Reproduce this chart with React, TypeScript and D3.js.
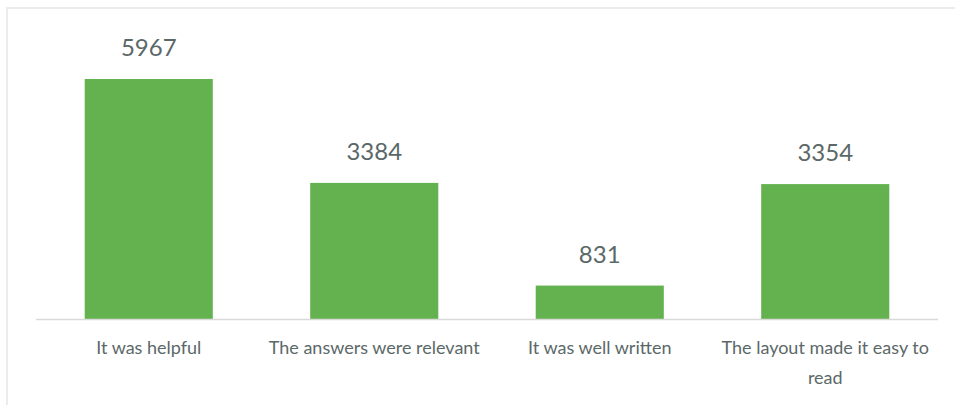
import React, { useEffect, useRef } from 'react';
import * as d3 from 'd3';

const categories = ['It was helpful', 'The answers were relevant', 'It was well written', 'The layout made it easy to read'];
const values = [5967, 3384, 831, 3354];

const W = 955;
const H = 405;
const margin = { left: 36, right: 17, top: 79, bottom: 86 };
const baseY = H - margin.bottom;

const x = d3.scaleBand<string>()
  .domain(categories)
  .range([margin.left, W - margin.right])
  .paddingInner(0.432)
  .paddingOuter(0.216);

const y = d3.scaleLinear()
  .domain([0, d3.max(values) as number])
  .range([baseY, margin.top]);

const textColor = '#5b6868';
const font = 'Lato, "Open Sans", sans-serif';

export default function App() {
  const ref = useRef<SVGSVGElement>(null);

  useEffect(() => {
    const svg = d3.select(ref.current);
    svg.selectAll('*').remove();

    // chart frame (only top and left edge visible)
    svg.append('rect')
      .attr('x', 7).attr('y', 8)
      .attr('width', W + 20).attr('height', H + 20)
      .attr('fill', 'white')
      .attr('stroke', '#ececec')
      .attr('stroke-width', 2);

    svg.selectAll('rect.bar')
      .data(values)
      .enter().append('rect')
      .attr('class', 'bar')
      .attr('x', (d, i) => x(categories[i]) as number)
      .attr('y', d => y(d))
      .attr('width', x.bandwidth())
      .attr('height', d => baseY - y(d))
      .attr('fill', '#64b14f');

    svg.selectAll('text.val')
      .data(values)
      .enter().append('text')
      .attr('class', 'val')
      .attr('x', (d, i) => (x(categories[i]) as number) + x.bandwidth() / 2)
      .attr('y', d => y(d) - 23)
      .attr('text-anchor', 'middle')
      .attr('font-family', font)
      .attr('font-size', 24)
      .attr('fill', textColor)
      .text(d => d);

    // baseline
    svg.append('line')
      .attr('x1', margin.left).attr('x2', W - margin.right)
      .attr('y1', baseY + 0.5).attr('y2', baseY + 0.5)
      .attr('stroke', '#d9d9d9')
      .attr('stroke-width', 1.5);

    // category labels, wrapped to the band step
    const labels = svg.selectAll('text.cat')
      .data(categories)
      .enter().append('text')
      .attr('class', 'cat')
      .attr('text-anchor', 'middle')
      .attr('font-family', font)
      .attr('font-size', 18)
      .attr('fill', textColor);

    labels.each(function (d) {
      const t = d3.select(this);
      const cx = (x(d) as number) + x.bandwidth() / 2;
      const words = d.split(' ');
      let line: string[] = [];
      let lineNo = 0;
      let tspan = t.append('tspan').attr('x', cx).attr('y', baseY + 35);
      words.forEach(w => {
        line.push(w);
        tspan.text(line.join(' '));
        if ((tspan.node() as SVGTSpanElement).getComputedTextLength() > x.step() - 10 && line.length > 1) {
          line.pop();
          tspan.text(line.join(' '));
          line = [w];
          lineNo++;
          tspan = t.append('tspan').attr('x', cx).attr('y', baseY + 35 + lineNo * 30).text(w);
        }
      });
    });
  }, []);

  return (
    <svg ref={ref} width={W} height={H} style={{ position: 'absolute', left: 0, top: 0 }} />
  );
}
